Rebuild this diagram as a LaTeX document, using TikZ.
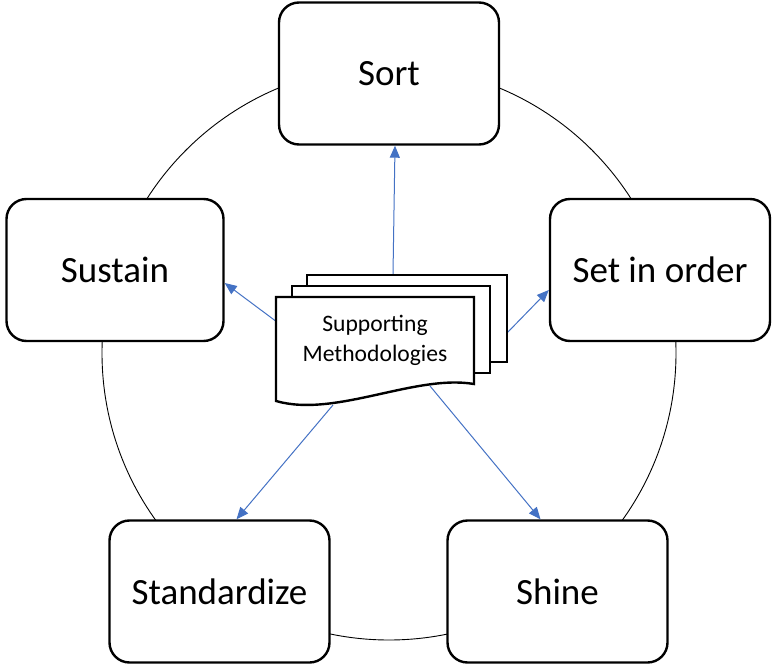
\documentclass[tikz,border=0pt]{standalone}
\usepackage{fontspec}
\setmainfont{Carlito}
\usetikzlibrary{arrows.meta}
\definecolor{arrowblue}{HTML}{4472C4}
\tikzset{
  stagebox/.style={draw=black, line width=2.4pt, fill=white, rounded corners=20pt,
    minimum width=220pt, minimum height=142pt, font=\fontsize{37}{42}\selectfont, inner sep=0pt},
  docpage/.style={draw=black, line width=2.4pt, fill=white},
  linkarrow/.style={draw=arrowblue, line width=1pt, -{Triangle[length=12pt,width=10pt]}},
  cyclering/.style={draw=black, line width=0.9pt}
}
\begin{document}
\begin{tikzpicture}[x=1pt,y=-1pt]
\useasboundingbox (0,0) rectangle (773,668);
% ring
\draw[cyclering] (389,353) circle[radius=287];
% stage boxes
\node[stagebox] (sort) at (389,73.5) {Sort};
\node[stagebox] (setorder) at (660,270) {Set in order};
\node[stagebox, minimum width=217pt] (sustain) at (115,270) {Sustain};
\node[stagebox] (standardize) at (219.5,591.5) {Standardize};
\node[stagebox] (shine) at (557.5,591.5) {Shine};
% start points on the document stack
\coordinate (dTop) at (393,274);
\coordinate (dRight) at (507,333);
\coordinate (dLeft) at (277,322);
\coordinate (dBotL) at (333,405);
\coordinate (dBotR) at (430,386);
% connectors
\draw[linkarrow] (dTop) -- ([xshift=6pt]sort.south);
\draw[linkarrow] (dRight) -- ([yshift=-20pt]setorder.west);
\draw[linkarrow] (dLeft) -- ([yshift=-13pt]sustain.east);
\draw[linkarrow] (dBotL) -- ([xshift=17pt]standardize.north);
\draw[linkarrow] (dBotR) -- ([xshift=-17pt]shine.north);
% document stack
\draw[docpage] (307,275) rectangle (507,362);
\draw[docpage] (292,286) rectangle (490,373);
\draw[docpage] (276,297) -- (474,297) -- (474,384)
  .. controls (415,374) and (335,418) .. (276,401) -- cycle;
\node[align=center, font=\fontsize{23.6}{30}\selectfont, inner sep=0pt] (docs) at (375,340)
  {Supporting\\Methodologies};
\end{tikzpicture}
\end{document}
